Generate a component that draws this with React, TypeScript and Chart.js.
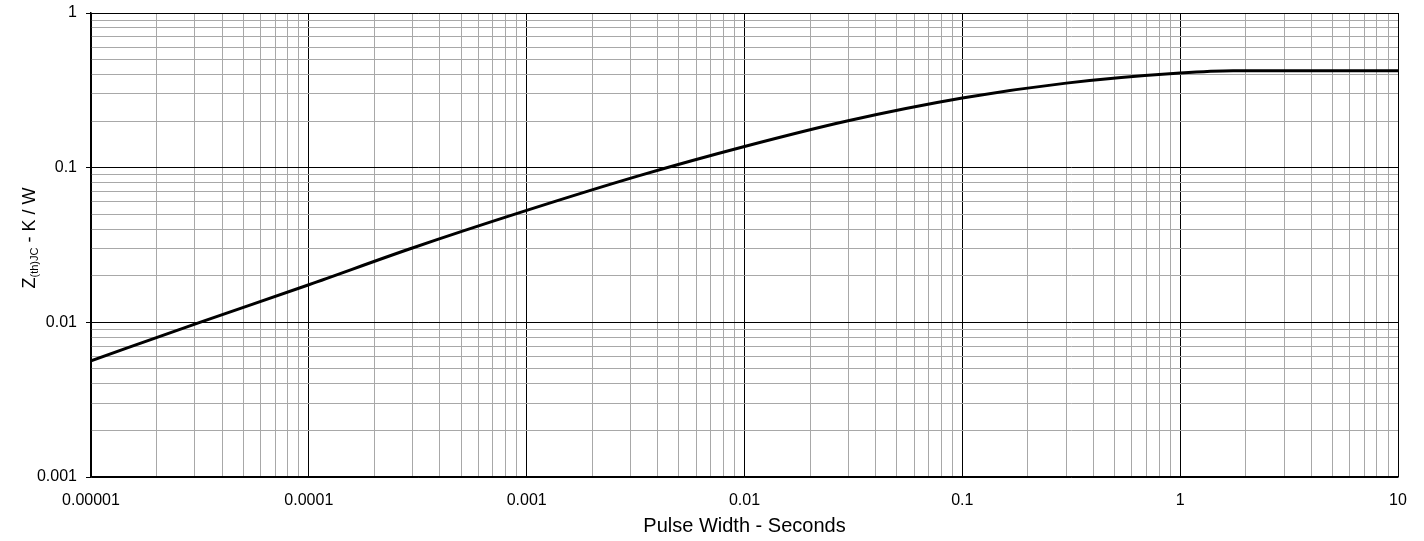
import React, { useEffect, useRef } from "react";
import { Chart, registerables } from "chart.js";

Chart.register(...registerables);

// Data (log-log thermal impedance curve)
const pulseWidth = [1e-5, 3.16e-5, 1e-4, 2.92e-4, 1e-3, 3.32e-3, 0.01, 0.0299, 0.1, 0.3, 1, 1.75, 10];
const zthJC = [0.00564, 0.01, 0.0175, 0.0299, 0.0529, 0.0891, 0.137, 0.201, 0.282, 0.352, 0.409, 0.423, 0.423];

// Axis decades and labels
const xDecades = [1e-5, 1e-4, 1e-3, 0.01, 0.1, 1, 10];
const xTickLabels = ["0.00001", "0.0001", "0.001", "0.01", "0.1", "1", "10"];
const yDecades = [0.001, 0.01, 0.1, 1];
const yTickLabels = ["0.001", "0.01", "0.1", "1"];
const minorMultipliers = [2, 3, 4, 5, 6, 7, 8, 9];

const FONT = "'Liberation Sans', Arial, sans-serif";

function buildTicks(decades: number[]) {
  const ticks: { value: number; major: boolean }[] = [];
  decades.forEach((d, i) => {
    ticks.push({ value: d, major: true });
    if (i < decades.length - 1) {
      minorMultipliers.forEach((m) => ticks.push({ value: d * m, major: false }));
    }
  });
  return ticks;
}

function decadeIndex(decades: number[], v: number) {
  return decades.findIndex((d) => Math.abs(Math.log10(d) - Math.log10(v)) < 1e-6);
}

const yTitlePlugin = {
  id: "yTitle",
  afterDraw(chart: any) {
    const ctx = chart.ctx;
    const mainFont = `18px ${FONT}`;
    const subFont = `11px ${FONT}`;
    ctx.save();
    ctx.font = mainFont;
    const wZ = ctx.measureText("Z").width;
    const rest = " - K / W";
    const wRest = ctx.measureText(rest).width;
    ctx.font = subFont;
    const sub = "(th)JC";
    const wSub = ctx.measureText(sub).width;
    const total = wZ + wSub + wRest;
    ctx.translate(35, 238);
    ctx.rotate(-Math.PI / 2);
    ctx.fillStyle = "#000";
    ctx.textBaseline = "alphabetic";
    ctx.textAlign = "left";
    let x = -total / 2;
    ctx.font = mainFont;
    ctx.fillText("Z", x, 0);
    x += wZ;
    ctx.font = subFont;
    ctx.fillText(sub, x, 3);
    x += wSub;
    ctx.font = mainFont;
    ctx.fillText(rest, x, 0);
    ctx.restore();
  },
};

export default function App() {
  const canvasRef = useRef<HTMLCanvasElement | null>(null);

  useEffect(() => {
    const canvas = canvasRef.current;
    if (!canvas) return;
    const points = pulseWidth.map((x, i) => ({ x, y: zthJC[i] }));
    const chart = new Chart(canvas, {
      type: "line",
      data: {
        datasets: [
          {
            data: points,
            borderColor: "#000",
            borderWidth: 3,
            pointRadius: 0,
            cubicInterpolationMode: "monotone",
            fill: false,
          },
        ],
      },
      options: {
        animation: false,
        responsive: false,
        devicePixelRatio: 1,
        layout: { padding: { top: 13, right: 26, left: 0, bottom: 0 } },
        plugins: {
          legend: { display: false },
          tooltip: { enabled: false },
        },
        scales: {
          x: {
            type: "logarithmic",
            min: 1e-5,
            max: 10,
            afterBuildTicks: (scale: any) => {
              scale.ticks = buildTicks(xDecades);
            },
            afterFit: (scale: any) => {
              scale.height = 64;
              scale.paddingLeft = 0;
              scale.paddingRight = 0;
            },
            ticks: {
              autoSkip: false,
              maxRotation: 0,
              minRotation: 0,
              padding: 14,
              color: "#000",
              font: { family: FONT, size: 16 },
              callback: (value: any) => {
                const i = decadeIndex(xDecades, Number(value));
                return i >= 0 ? xTickLabels[i] : "";
              },
            },
            grid: {
              drawTicks: false,
              lineWidth: 1,
              color: (ctx: any) =>
                ctx.tick && decadeIndex(xDecades, ctx.tick.value) >= 0 ? "#000" : "#a8a8a8",
            },
            border: { display: true, color: "#000", width: 1.5 },
            title: {
              display: true,
              text: "Pulse Width - Seconds",
              color: "#000",
              font: { family: FONT, size: 20 },
              padding: { top: 0, bottom: 3 },
            },
          },
          y: {
            type: "logarithmic",
            min: 0.001,
            max: 1,
            afterBuildTicks: (scale: any) => {
              scale.ticks = buildTicks(yDecades);
            },
            afterFit: (scale: any) => {
              scale.width = 91;
              scale.paddingTop = 0;
              scale.paddingBottom = 0;
            },
            ticks: {
              autoSkip: false,
              padding: 9,
              color: "#000",
              font: { family: FONT, size: 16 },
              callback: (value: any) => {
                const i = decadeIndex(yDecades, Number(value));
                return i >= 0 ? yTickLabels[i] : "";
              },
            },
            grid: {
              drawTicks: true,
              tickLength: 5,
              lineWidth: 1,
              color: (ctx: any) =>
                ctx.tick && decadeIndex(yDecades, ctx.tick.value) >= 0 ? "#000" : "#a8a8a8",
              tickColor: (ctx: any) =>
                ctx.tick && decadeIndex(yDecades, ctx.tick.value) >= 0 ? "#000" : "rgba(0,0,0,0)",
            },
            border: { display: true, color: "#000", width: 1.5 },
          },
        },
      } as any,
      plugins: [yTitlePlugin],
    });
    return () => chart.destroy();
  }, []);

  return (
    <div style={{ position: "absolute", left: 0, top: 0, width: 1424, height: 541, background: "#fff" }}>
      <canvas ref={canvasRef} width={1424} height={541} style={{ width: 1424, height: 541, display: "block" }} />
    </div>
  );
}
